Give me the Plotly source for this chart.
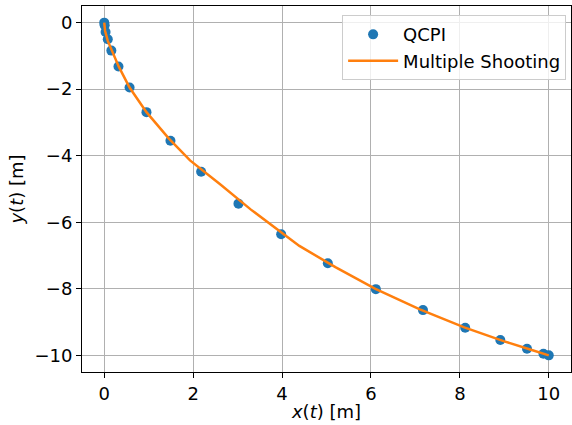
import plotly.graph_objects as go

# QCPI collocation solution (trajectory points)
qcpi_x = [0.0, 0.01, 0.03, 0.08, 0.16, 0.32, 0.57, 0.95, 1.49, 2.18, 3.02,
          3.98, 5.03, 6.11, 7.17, 8.12, 8.91, 9.51, 9.88, 10.0]
qcpi_y = [0.0, -0.08, -0.28, -0.50, -0.84, -1.32, -1.95, -2.69, -3.55, -4.48,
          -5.44, -6.36, -7.23, -8.01, -8.64, -9.17, -9.54, -9.80, -9.95, -10.0]

# Multiple shooting solution (node trajectory)
ms_x = [0.0, 0.02, 0.08, 0.18, 0.33, 0.57, 0.95, 1.45, 1.93, 2.6, 3.3,
        4.39, 5.2, 6.1, 7.1, 8.1, 9.0, 9.6, 10.0]
ms_y = [0.0, -0.25, -0.55, -0.88, -1.33, -1.95, -2.69, -3.48, -4.14, -4.85,
        -5.62, -6.71, -7.35, -8.0, -8.62, -9.16, -9.58, -9.83, -10.0]

FONT = "DejaVu Sans"
FS = 18

fig = go.Figure()
fig.add_trace(go.Scatter(
    x=qcpi_x, y=qcpi_y, mode="markers", name="QCPI",
    marker=dict(color="#1f77b4", size=10, line=dict(width=0)),
))
fig.add_trace(go.Scatter(
    x=ms_x, y=ms_y, mode="lines", name="Multiple Shooting",
    line=dict(color="#ff7f0e", width=2.5),
))

axis_common = dict(
    showgrid=True, gridcolor="#b0b0b0", gridwidth=1,
    showline=True, linecolor="black", linewidth=1, mirror=True,
    ticks="outside", ticklen=5, tickwidth=1, tickcolor="black",
    zeroline=False,
    tickfont=dict(family=FONT, size=FS, color="black"),
    title_font=dict(family=FONT, size=FS, color="black"),
)

fig.update_layout(
    width=572, height=425,
    margin=dict(l=82, r=1, t=6, b=53),
    plot_bgcolor="white", paper_bgcolor="white",
    font=dict(family=FONT, size=FS, color="black"),
    xaxis=dict(range=[-0.5, 10.5], tickvals=[0, 2, 4, 6, 8, 10],
               title=dict(text="<i>x</i>(<i>t</i>) [m]", standoff=2),
               **axis_common),
    yaxis=dict(range=[-10.5, 0.5], tickvals=[0, -2, -4, -6, -8, -10],
               title=dict(text="<i>y</i>(<i>t</i>) [m]", standoff=6),
               **axis_common),
    legend=dict(
        x=0.99, y=0.975, xanchor="right", yanchor="top",
        bgcolor="rgba(255,255,255,0.8)", bordercolor="#cccccc", borderwidth=1,
        font=dict(family=FONT, size=FS, color="black"),
        itemwidth=50,
    ),
    showlegend=True,
)

fig.write_html("out.html")
